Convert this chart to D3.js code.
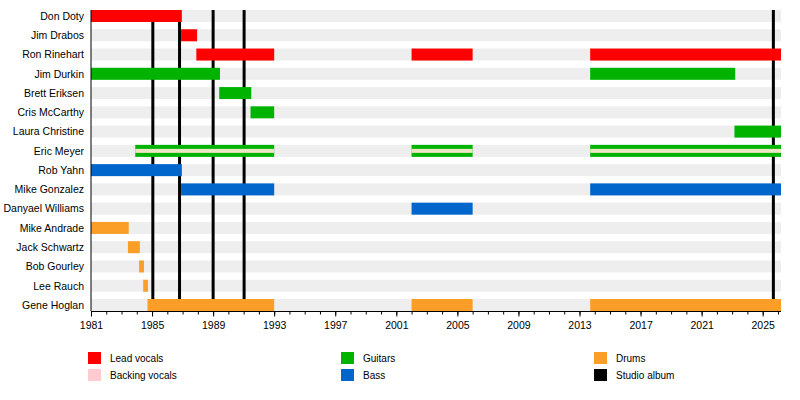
<!DOCTYPE html>
<html>
<head>
<meta charset="utf-8">
<script src="https://cdn.jsdelivr.net/npm/d3@7"></script>
<style>
  body { margin: 0; background: #fff; }
  text { font-family: "Liberation Sans", Arial, sans-serif; }
</style>
</head>
<body>
<svg id="chart" width="800" height="400"></svg>
<script>
// Members, top to bottom
const members = [
  'Don Doty', 'Jim Drabos', 'Ron Rinehart', 'Jim Durkin', 'Brett Eriksen',
  'Cris McCarthy', 'Laura Christine', 'Eric Meyer', 'Rob Yahn', 'Mike Gonzalez',
  'Danyael Williams', 'Mike Andrade', 'Jack Schwartz', 'Bob Gourley', 'Lee Rauch',
  'Gene Hoglan'
];

// Roles and their colours
const roles = ['Lead vocals', 'Backing vocals', 'Guitars', 'Bass', 'Drums', 'Studio album'];
const roleColors = ['#ff0000', '#fdcbd0', '#00b300', '#0066cc', '#fa9e28', '#000000'];

// Membership periods: [member, role, start, end] (decimal years)
const periods = [
  ['Don Doty', 'Lead vocals', 1981.0, 1986.95],
  ['Jim Drabos', 'Lead vocals', 1986.9, 1987.95],
  ['Ron Rinehart', 'Lead vocals', 1987.9, 1993.0],
  ['Ron Rinehart', 'Lead vocals', 2002.0, 2006.0],
  ['Ron Rinehart', 'Lead vocals', 2013.7, 2026.2],
  ['Jim Durkin', 'Guitars', 1981.0, 1989.45],
  ['Jim Durkin', 'Guitars', 2013.7, 2023.2],
  ['Brett Eriksen', 'Guitars', 1989.4, 1991.5],
  ['Cris McCarthy', 'Guitars', 1991.45, 1993.0],
  ['Laura Christine', 'Guitars', 2023.15, 2026.2],
  ['Eric Meyer', 'Guitars', 1983.9, 1993.0],
  ['Eric Meyer', 'Guitars', 2002.0, 2006.0],
  ['Eric Meyer', 'Guitars', 2013.7, 2026.2],
  ['Rob Yahn', 'Bass', 1981.0, 1986.95],
  ['Mike Gonzalez', 'Bass', 1986.9, 1993.0],
  ['Mike Gonzalez', 'Bass', 2013.7, 2026.2],
  ['Danyael Williams', 'Bass', 2002.0, 2006.0],
  ['Mike Andrade', 'Drums', 1981.0, 1983.47],
  ['Jack Schwartz', 'Drums', 1983.42, 1984.2],
  ['Bob Gourley', 'Drums', 1984.15, 1984.47],
  ['Lee Rauch', 'Drums', 1984.42, 1984.73],
  ['Gene Hoglan', 'Drums', 1984.7, 1993.0],
  ['Gene Hoglan', 'Drums', 2002.0, 2006.0],
  ['Gene Hoglan', 'Drums', 2013.7, 2026.2]
];

// Backing vocals as thin stripes inside a bar
const backing = [
  ['Eric Meyer', 1983.9, 1993.0],
  ['Eric Meyer', 2002.0, 2006.0],
  ['Eric Meyer', 2013.7, 2026.2]
];

// Studio album release dates
const albums = [1985.05, 1986.8, 1989.0, 1991.03, 2025.7];

const startYear = 1981;
const endYear = 2026.2;
const tickYears = d3.range(1981, 2026, 4);
const minorYears = d3.range(1981, 2027, 1);

const svg = d3.select('#chart');
const color = d3.scaleOrdinal().domain(roles).range(roleColors);

const x = d3.scaleLinear().domain([startYear, endYear]).range([91, 781]);
const y = d3.scalePoint().domain(members).range([16, 305]);
const barH = 12;
const plotTop = y(members[0]) - barH / 2;
const plotBottom = y(members[members.length - 1]) + barH / 2;

// grey background rows
svg.append('g')
  .selectAll('rect')
  .data(members)
  .join('rect')
  .attr('x', x(startYear))
  .attr('y', d => y(d) - barH / 2)
  .attr('width', x(endYear) - x(startYear))
  .attr('height', barH)
  .attr('fill', '#eeeeee');

// album lines (behind the bars)
svg.append('g')
  .selectAll('line')
  .data(albums)
  .join('line')
  .attr('x1', d => x(d))
  .attr('x2', d => x(d))
  .attr('y1', plotTop)
  .attr('y2', plotBottom)
  .attr('stroke', color('Studio album'))
  .attr('stroke-width', 3);

// member bars
svg.append('g')
  .selectAll('rect')
  .data(periods)
  .join('rect')
  .attr('x', d => x(d[2]))
  .attr('y', d => y(d[0]) - barH / 2)
  .attr('width', d => x(d[3]) - x(d[2]))
  .attr('height', barH)
  .attr('fill', d => color(d[1]));

// backing vocal stripes
svg.append('g')
  .selectAll('rect')
  .data(backing)
  .join('rect')
  .attr('x', d => x(d[1]))
  .attr('y', d => y(d[0]) - 2)
  .attr('width', d => x(d[2]) - x(d[1]))
  .attr('height', 4)
  .attr('fill', '#ece6c4');

// member names
svg.append('g')
  .selectAll('text')
  .data(members)
  .join('text')
  .attr('x', 84)
  .attr('y', d => y(d) + 3.8)
  .attr('text-anchor', 'end')
  .style('font-size', '10.5px')
  .style('fill', '#000')
  .text(d => d);

// left edge line
svg.append('line')
  .attr('x1', x(startYear)).attr('x2', x(startYear))
  .attr('y1', plotTop).attr('y2', plotBottom)
  .attr('stroke', '#000').attr('stroke-width', 1);

// time axis
const axisY = plotBottom + 0.5;
const axis = svg.append('g').attr('transform', `translate(0,${axisY})`);

axis.append('g')
  .call(d3.axisBottom(x).tickValues(minorYears).tickSize(3).tickFormat(''))
  .call(g => g.select('.domain').remove());

axis.append('g')
  .call(d3.axisBottom(x).tickValues(tickYears).tickSize(5).tickSizeOuter(0).tickFormat(d3.format('d')))
  .call(g => g.select('.domain').attr('d', `M${x(startYear)},0H${x(endYear)}`))
  .call(g => g.selectAll('text')
    .attr('y', 10)
    .style('font-family', '"Liberation Sans", Arial, sans-serif')
    .style('font-size', '10.5px')
    .style('fill', '#000'));

// legend
const legendItems = roles.map((r, i) => ({
  name: r,
  col: [0, 0, 1, 1, 2, 2][i],
  row: i % 2
}));
const colX = [88, 341, 594];

const legend = svg.append('g')
  .selectAll('g')
  .data(legendItems)
  .join('g')
  .attr('transform', d => `translate(${colX[d.col]},${352 + d.row * 17})`);

legend.append('rect')
  .attr('width', 13)
  .attr('height', 12)
  .attr('fill', d => color(d.name));

legend.append('text')
  .attr('x', 22)
  .attr('y', 10)
  .style('font-size', '10px')
  .style('fill', '#000')
  .text(d => d.name);
</script>
</body>
</html>
